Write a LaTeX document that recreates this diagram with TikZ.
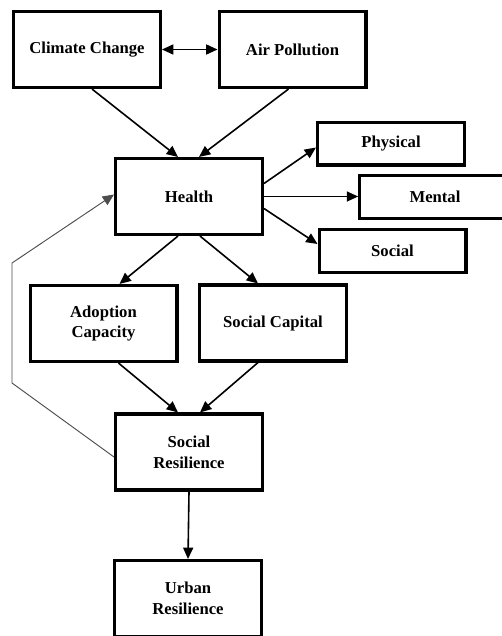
\documentclass[tikz,border=0pt]{standalone}
\usepackage{fontspec}
\setmainfont{Liberation Serif}
\usetikzlibrary{arrows.meta,calc}
\definecolor{BoxLine}{HTML}{000000}
\definecolor{LoopColor}{HTML}{4D4D4D}

\begin{document}
\begin{tikzpicture}[x=0.75pt, y=-0.75pt,
  box/.style={draw=BoxLine, line width=2.3pt, align=center, inner sep=2pt,
    font=\fontsize{12.5}{15.5}\selectfont\bfseries},
  bigbox/.style={box, minimum width=110.2pt, minimum height=57pt},
  smallbox/.style={box, minimum width=110.2pt, minimum height=32.2pt},
  link/.style={line width=1.2pt, -{Triangle[length=8.5pt,width=7.5pt]}}]
  \useasboundingbox (0,0) rectangle (502,636);

  \node[bigbox] (climate) at (87,49.5) {Climate Change};
  \node[bigbox] (air) at (292.5,49.5) {Air Pollution};
  \node[bigbox] (health) at (189,196.5) {Health};
  \node[smallbox] (physical) at (391,143.5) {Physical};
  \node[smallbox, minimum width=113pt] (mental) at (435,197) {Mental};
  \node[smallbox] (social) at (392.5,251) {Social};
  \node[bigbox] (adoption) at (103.5,323.5) {Adoption\\Capacity};
  \node[bigbox] (capital) at (273,323) {Social Capital};
  \node[bigbox] (socres) at (189,452) {Social\\Resilience};
  \node[bigbox] (urban) at (188,598.5) {Urban\\Resilience};

  \draw[line width=1.2pt, {Triangle[length=8.5pt,width=7.5pt]}-{Triangle[length=8.5pt,width=7.5pt]}]
    (climate.east) -- (air.west);
  \draw[link] ($(climate.south)+(5,0)$) -- ($(health.north)+(-11,0)$);
  \draw[link] ($(air.south)+(-4,0)$) -- ($(health.north)+(10,0)$);
  \draw[link] ($(health.east)+(0,-13)$) -- ($(physical.west)+(0,4)$);
  \draw[link] (health.east) -- (health.east -| mental.west);
  \draw[link] ($(health.east)+(0,12)$) -- ($(social.west)+(0,-7)$);
  \draw[link] ($(health.south)+(-11,0)$) -- ($(adoption.north)+(16,0)$);
  \draw[link] ($(health.south)+(11,0)$) -- ($(capital.north)+(-15,0)$);
  \draw[link] ($(adoption.south)+(15,0)$) -- ($(socres.north)+(-11,0)$);
  \draw[link] ($(capital.south)+(-15,0)$) -- ($(socres.north)+(11,0)$);
  \draw[link] (socres.south) -- (urban.north);
  \draw[LoopColor, line width=0.7pt, -{Triangle[length=8.5pt,width=7.5pt]}]
    ($(socres.west)+(0,5)$) -- (12,383) -- (12,263) -- ($(health.west)+(0,-2)$);
\end{tikzpicture}
\end{document}
